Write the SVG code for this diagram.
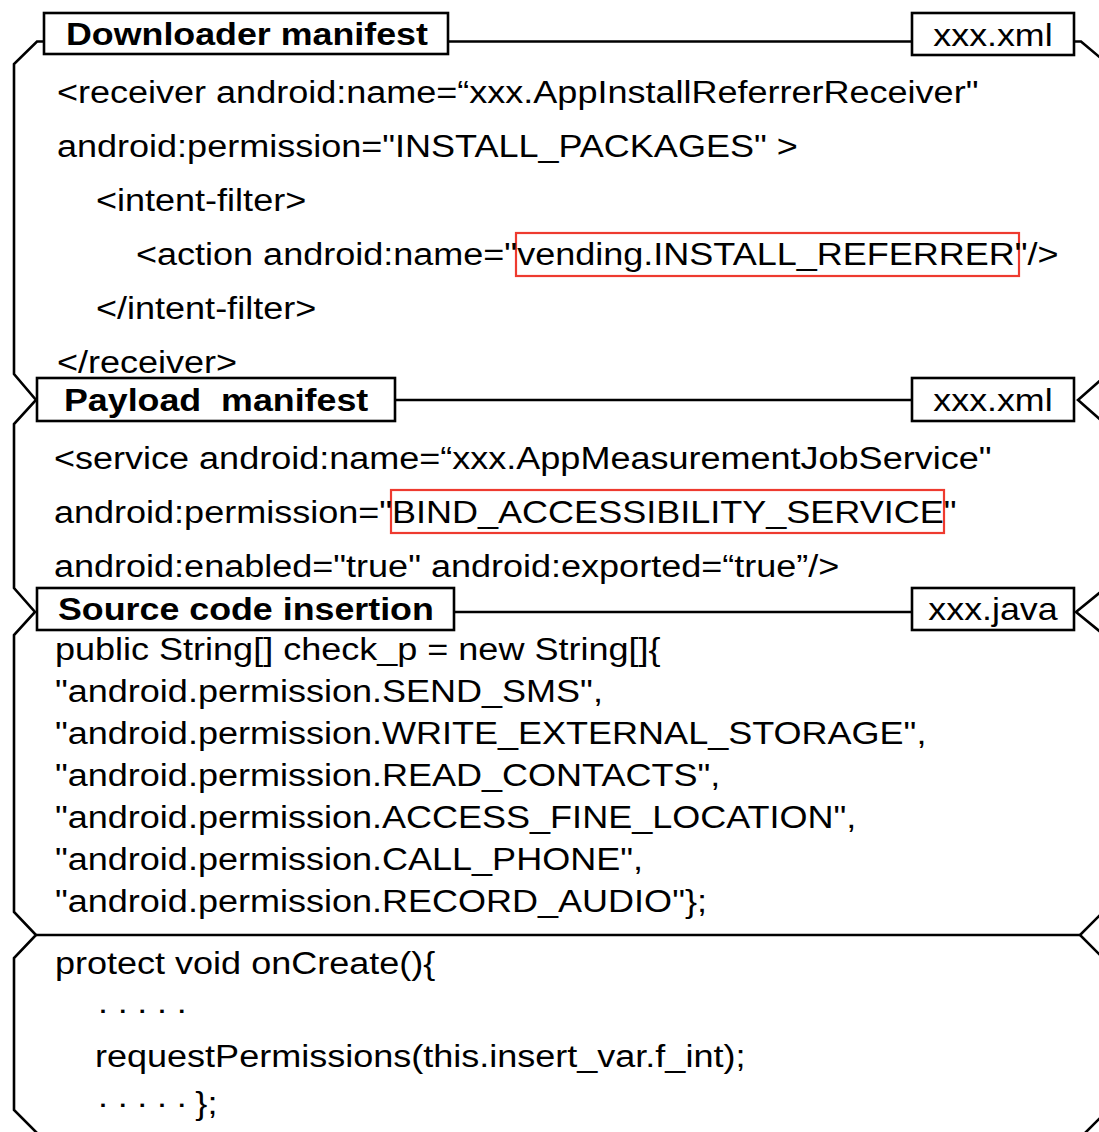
<svg xmlns="http://www.w3.org/2000/svg" width="1099" height="1132" viewBox="0 0 1099 1132">
  <style>
    .frame { fill: none; stroke: #000; stroke-width: 2.6; stroke-linejoin: miter; }
    .tag { fill: #fff; stroke: #000; stroke-width: 2.6; }
    .mark { fill: none; stroke: #ee3a2f; stroke-width: 2.2; }
    text { font-family: "Liberation Sans", Arial, Helvetica, sans-serif; font-size: 31px; fill: #000; }
    .title { font-weight: bold; white-space: pre; }
    .file { text-anchor: middle; }
    .dots { letter-spacing: -1px; }
  </style>

  <!-- outline of the stacked panels and the rules between them -->
  <g id="connectors">
    <path class="frame" d="M44,41.5 H37 L14,64 V374 L36,400 L14,424 V588 L35,612 L14,635 V912 L36,935 L14,958 V1110 L38,1134"/>
    <path class="frame" d="M1074,41.5 H1081 L1103,60 V378 L1078,400 L1103,422 V590 L1076,612 L1103,634 V912 L1080,935 L1103,958 V1115 L1084,1134"/>
    <line class="frame" x1="448" y1="41.5" x2="912" y2="41.5"/>
    <line class="frame" x1="395" y1="400" x2="912" y2="400"/>
    <line class="frame" x1="454" y1="612" x2="912" y2="612"/>
    <line class="frame" x1="36" y1="935" x2="1080" y2="935"/>
  </g>

  <!-- panel 1: downloader manifest -->
  <g id="downloader-manifest">
    <rect class="tag" x="44" y="13" width="404" height="41"/>
    <rect class="tag" x="912" y="13" width="162" height="42"/>
    <rect class="mark" x="516" y="233" width="503" height="43"/>
    <g transform="scale(1.155 1)">
      <text class="title" x="57.14" y="45">Downloader manifest</text>
      <text class="file" x="859.74" y="46">xxx.xml</text>
    </g>
    <g transform="scale(1.162 1)">
      <text x="49.05" y="103">&lt;receiver android:name=“xxx.AppInstallReferrerReceiver"</text>
      <text x="49.05" y="157">android:permission="INSTALL_PACKAGES" &gt;</text>
      <text x="82.62" y="211">&lt;intent-filter&gt;</text>
      <text x="117.04" y="265">&lt;action android:name="vending.INSTALL_REFERRER"/&gt;</text>
      <text x="82.62" y="319">&lt;/intent-filter&gt;</text>
      <text x="49.05" y="373">&lt;/receiver&gt;</text>
    </g>
  </g>

  <!-- panel 2: payload manifest -->
  <g id="payload-manifest">
    <rect class="tag" x="37" y="378" width="358" height="43"/>
    <rect class="tag" x="912" y="378" width="162" height="43"/>
    <rect class="mark" x="391" y="490" width="553" height="43"/>
    <g transform="scale(1.155 1)">
      <text class="title" x="55.41" y="411">Payload  manifest</text>
      <text class="file" x="859.74" y="411">xxx.xml</text>
    </g>
    <g transform="scale(1.162 1)">
      <text x="46.47" y="469">&lt;service android:name=“xxx.AppMeasurementJobService"</text>
      <text x="46.47" y="523">android:permission="BIND_ACCESSIBILITY_SERVICE"</text>
      <text x="46.47" y="577">android:enabled="true" android:exported=“true”/&gt;</text>
    </g>
  </g>

  <!-- panel 3: inserted permission array -->
  <g id="source-code-insertion">
    <rect class="tag" x="37" y="588" width="417" height="42"/>
    <rect class="tag" x="912" y="588" width="162" height="42"/>
    <g transform="scale(1.155 1)">
      <text class="title" x="50.22" y="620">Source code insertion</text>
      <text class="file" x="859.74" y="620">xxx.java</text>
    </g>
    <g transform="scale(1.162 1)">
      <text x="47.33" y="660">public String[] check_p = new String[]{</text>
      <text x="47.33" y="702">"android.permission.SEND_SMS",</text>
      <text x="47.33" y="744">"android.permission.WRITE_EXTERNAL_STORAGE",</text>
      <text x="47.33" y="786">"android.permission.READ_CONTACTS",</text>
      <text x="47.33" y="828">"android.permission.ACCESS_FINE_LOCATION",</text>
      <text x="47.33" y="870">"android.permission.CALL_PHONE",</text>
      <text x="47.33" y="912">"android.permission.RECORD_AUDIO"};</text>
    </g>
  </g>

  <!-- panel 4: onCreate request -->
  <g id="on-create">
    <g transform="scale(1.162 1)">
      <text x="47.33" y="974">protect void onCreate(){</text>
      <text class="dots" x="83.48" y="1020">· · · · ·</text>
      <text x="81.76" y="1067">requestPermissions(this.insert_var.f_int);</text>
      <text x="83.48" y="1114"><tspan class="dots">· · · · · </tspan>};</text>
    </g>
  </g>
</svg>
